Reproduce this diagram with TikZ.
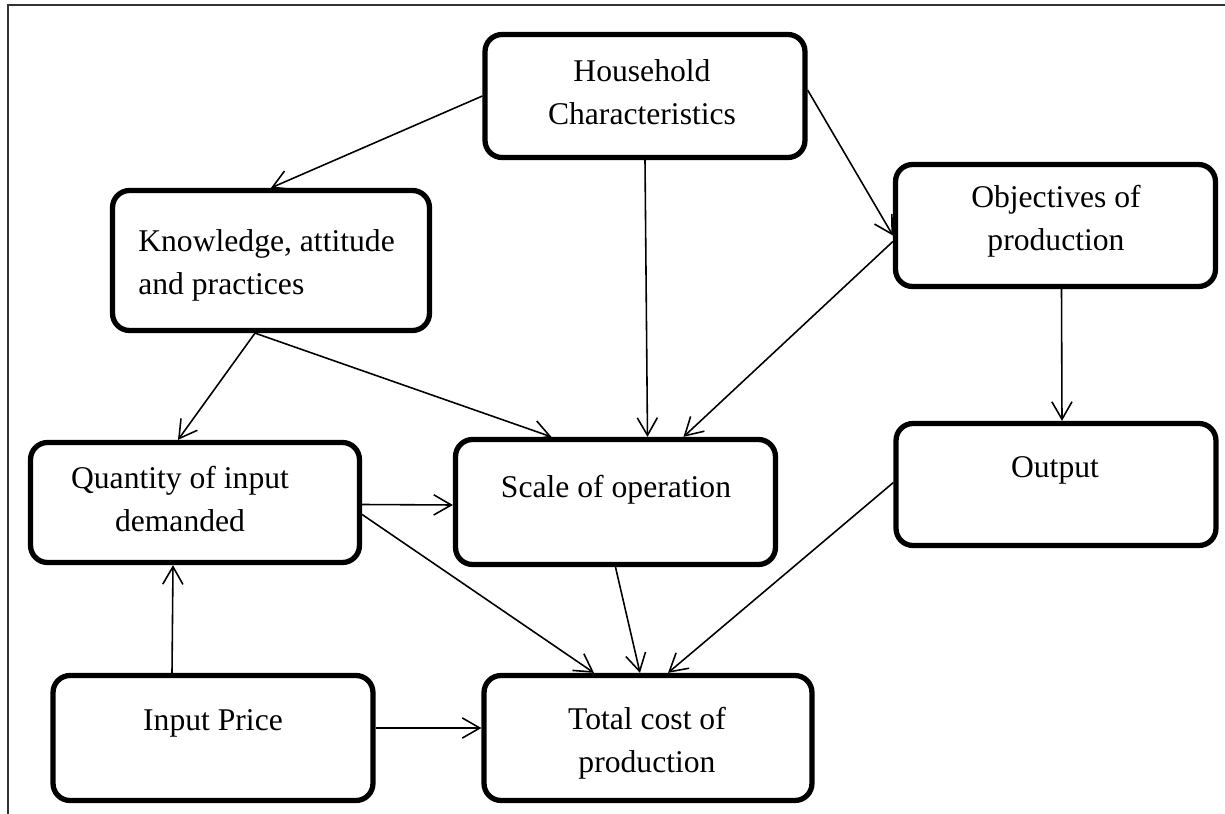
\documentclass[tikz,border=0pt]{standalone}
\usepackage{fontspec}
\setmainfont{Liberation Serif}
\usetikzlibrary{arrows.meta,calc}

\begin{document}
\begin{tikzpicture}[
  x=0.02cm, y=-0.02cm,
  font=\fontsize{18}{24.4}\selectfont,
  box/.style={draw,line width=3pt,rounded corners=0.34cm,minimum width=6.4cm,minimum height=2.5cm,inner sep=0pt},
  txt/.style={align=center,inner sep=0pt},
  arrow/.style={-{Straight Barb[length=10pt,width=11.5pt]},line width=0.9pt},
]
\useasboundingbox (0,0) rectangle (1225,814);
\draw[line width=0.6pt,black!80] (1225,5) -- (8,5) -- (8,814);

\node[box, minimum height=2.46cm] (hh) at (645,96) {};
\node[box, minimum width=6.34cm, minimum height=2.8cm] (kap) at (271,260.5) {};
\node[box, minimum height=2.44cm] (obj) at (1055.5,225.5) {};
\node[box, minimum height=2.44cm] (out) at (1056,484.5) {};
\node[box, minimum width=6.58cm, minimum height=2.4cm] (qty) at (195,502.5) {};
\node[box] (scale) at (615.5,502) {};
\node[box] (price) at (213,738) {};
\node[box, minimum width=6.56cm] (total) at (648,738) {};

\node[txt] (hhtext) at (642,92) {Household\\Characteristics};
\node[txt, align=left, anchor=west] (kaptext) at (138,265) {Knowledge, attitude\\and practices};
\node[txt] (objtext) at (1056,221) {Objectives of\\production};
\node[txt] (outtext) at (1055,470) {Output};
\node[txt] (qtytext) at (180,499) {Quantity of input\\demanded};
\node[txt] (scaletext) at (616,490) {Scale of operation};
\node[txt] (pricetext) at (213,723) {Input Price};
\node[txt] (totaltext) at (647,743) {Total cost of\\production};

\draw[arrow] (hh.west) -- (kap.north);
\draw[arrow] (hh.south) -- ($(scale.north)+(32,0)$);
\draw[arrow] ($(hh.east)+(0,-6)$) -- ($(obj.west)+(0,10)$);
\draw[arrow] ($(obj.west)+(0,16)$) -- ($(scale.north)+(68,0)$);
\draw[arrow] ($(obj.south)+(6,0)$) -- ($(out.north)+(6,0)$);
\draw[arrow] ($(kap.south)+(-16,0)$) -- ($(qty.north)+(-17,0)$);
\draw[arrow] ($(kap.south)+(-16,0)$) -- ($(scale.north)+(-64,0)$);
\draw[arrow] ($(qty.east)+(0,2)$) -- ($(scale.west)+(0,3)$);
\draw[arrow] ($(qty.east)+(0,12)$) -- ($(total.north)+(-54,0)$);
\draw[arrow] (scale.south) -- ($(total.north)+(-8,0)$);
\draw[arrow] ($(out.west)+(0,-2)$) -- ($(total.north)+(20,0)$);
\draw[arrow] ($(price.north)+(-41,0)$) -- ($(qty.south)+(-22,0)$);
\draw[arrow] ($(price.east)+(0,-10)$) -- ($(total.west)+(0,-10)$);
\end{tikzpicture}
\end{document}
